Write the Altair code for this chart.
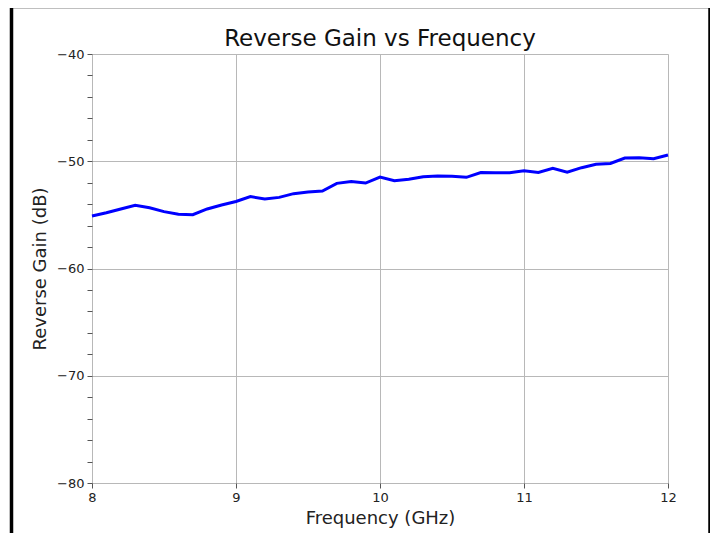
import altair as alt
import pandas as pd

title_text = "Reverse Gain vs Frequency"

freq_ghz = [8.0, 8.1, 8.2, 8.3, 8.4, 8.5, 8.6, 8.7, 8.8, 8.9,
            9.0, 9.1, 9.2, 9.3, 9.4, 9.5, 9.6, 9.7, 9.8, 9.9,
            10.0, 10.1, 10.2, 10.3, 10.4, 10.5, 10.6, 10.7, 10.8, 10.9,
            11.0, 11.1, 11.2, 11.3, 11.4, 11.5, 11.6, 11.7, 11.8, 11.9, 12.0]
reverse_gain_db = [-55.1, -54.8, -54.45, -54.1, -54.33, -54.7, -54.95, -54.98, -54.45, -54.08,
                   -53.75, -53.3, -53.52, -53.37, -53.02, -52.87, -52.77, -52.06, -51.9, -52.03,
                   -51.48, -51.82, -51.68, -51.44, -51.38, -51.4, -51.5, -51.05, -51.08, -51.07,
                   -50.88, -51.05, -50.66, -51.03, -50.6, -50.29, -50.2, -49.7, -49.68, -49.76, -49.42]

x_ticks = [8, 9, 10, 11, 12]
y_ticks = list(range(-80, -39, 2))

df = pd.DataFrame({"f": freq_ghz, "g": reverse_gain_db})
tdf = pd.DataFrame({"t": [title_text]})

FONT = "DejaVu Sans"

line = alt.Chart(df).mark_line(color="#0000ff", strokeWidth=3).encode(
    x=alt.X("f:Q", scale=alt.Scale(domain=[8, 12], nice=False, zero=False),
            axis=alt.Axis(values=x_ticks, title="Frequency (GHz)", labelFontSize=13,
                          titleFontSize=18, titleFontWeight="normal", titlePadding=5,
                          labelPadding=3, tickSize=5, labelColor="#222222",
                          titleColor="#222222", labelFont=FONT, titleFont=FONT,
                          domain=False, tickColor="#555555", gridColor="#b8b8b8",
                          labelFlush=False, format="d")),
    y=alt.Y("g:Q", scale=alt.Scale(domain=[-80, -40], nice=False, zero=False),
            axis=alt.Axis(values=y_ticks, title="Reverse Gain (dB)", labelFontSize=13,
                          titleFontSize=18, titleFontWeight="normal", titlePadding=7,
                          labelPadding=3, tickSize=5, labelColor="#222222",
                          titleColor="#222222", labelFont=FONT, titleFont=FONT,
                          domain=False, tickColor="#555555", gridColor="#b8b8b8",
                          labelExpr="datum.value % 10 == 0 ? '\u2212' + abs(datum.value) : ''",
                          gridOpacity={"condition": {"test": "datum.value % 10 === 0", "value": 1}, "value": 0},
                          labelFlush=False)),
)

title = alt.Chart(tdf).mark_text(fontSize=23, font=FONT, color="#111111",
                                 baseline="alphabetic", align="center").encode(
    text="t:N", x=alt.value(288), y=alt.value(-8)
)

frame = alt.Chart(tdf).mark_rect(fill=None, stroke="black", strokeWidth=3.5, clip=False).encode(
    x=alt.value(-80.5), x2=alt.value(618), y=alt.value(-47.5), y2=alt.value(520)
)

chart = alt.layer(line, title, frame).properties(
    width=576, height=429,
    autosize=alt.AutoSizeParams(type="none"),
    padding={"left": 84, "top": 46, "right": 42, "bottom": 50},
).configure_view(stroke="#555555", strokeWidth=1.2).configure(background="white")

chart.save("out.html", embed_options={"renderer": "svg", "actions": False})
